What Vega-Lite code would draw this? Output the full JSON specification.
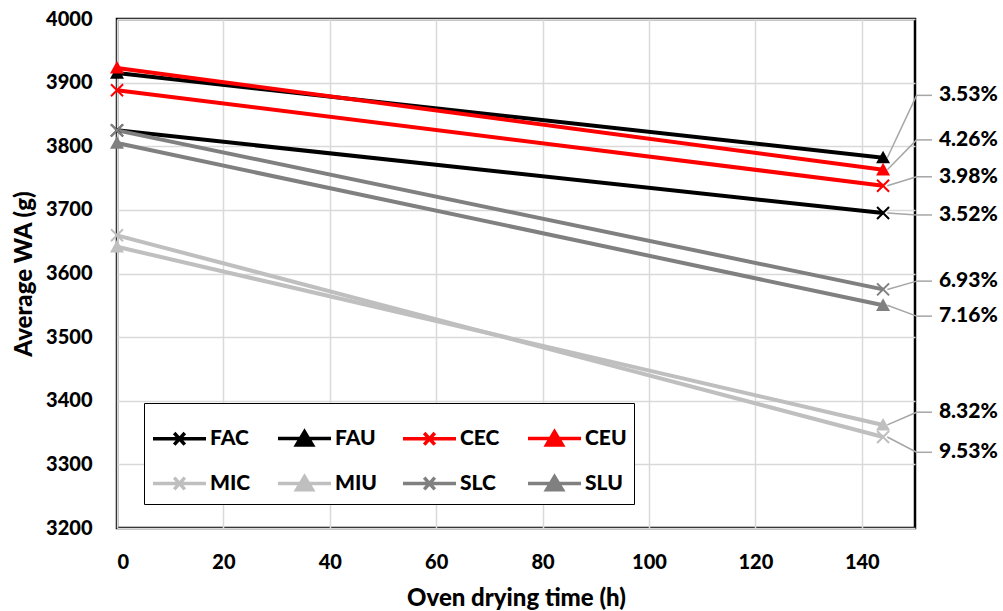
{
  "$schema": "https://vega.github.io/schema/vega-lite/v6.json",
  "width": 798,
  "height": 509,
  "autosize": {"type": "none"},
  "padding": {"left": 117, "top": 19, "right": 88, "bottom": 83},
  "background": "white",
  "config": {
    "font": "Lato",
    "view": {"stroke": "black", "strokeWidth": 2.5},
    "axis": {
      "labelFont": "Lato", "labelFontWeight": 900, "labelFontSize": 20, "labelColor": "black",
      "titleFont": "Lato", "titleFontWeight": 900, "titleFontSize": 24, "titleColor": "black",
      "domain": false, "ticks": false, "gridColor": "#d9d9d9", "gridWidth": 1.5
    }
  },
  "datasets": {
    "series": [
      {"series": "FAC", "t": 0, "wa": 3825}, {"series": "FAC", "t": 144, "wa": 3695},
      {"series": "FAU", "t": 0, "wa": 3915}, {"series": "FAU", "t": 144, "wa": 3782},
      {"series": "CEC", "t": 0, "wa": 3888}, {"series": "CEC", "t": 144, "wa": 3738},
      {"series": "CEU", "t": 0, "wa": 3923}, {"series": "CEU", "t": 144, "wa": 3763},
      {"series": "MIC", "t": 0, "wa": 3660}, {"series": "MIC", "t": 144, "wa": 3343},
      {"series": "MIU", "t": 0, "wa": 3642}, {"series": "MIU", "t": 144, "wa": 3362},
      {"series": "SLC", "t": 0, "wa": 3825}, {"series": "SLC", "t": 144, "wa": 3575},
      {"series": "SLU", "t": 0, "wa": 3805}, {"series": "SLU", "t": 144, "wa": 3550}
    ],
    "labels": [
      {"pct": "3.53%", "val": 3782, "ly": 3880},
      {"pct": "4.26%", "val": 3763, "ly": 3810},
      {"pct": "3.98%", "val": 3738, "ly": 3752},
      {"pct": "3.52%", "val": 3695, "ly": 3692},
      {"pct": "6.93%", "val": 3575, "ly": 3588},
      {"pct": "7.16%", "val": 3550, "ly": 3533},
      {"pct": "8.32%", "val": 3362, "ly": 3382},
      {"pct": "9.53%", "val": 3343, "ly": 3319}
    ]
  },
  "layer": [
    {
      "data": {"name": "series"},
      "mark": {"type": "line", "strokeWidth": 4},
      "encoding": {
        "x": {"field": "t", "type": "quantitative", "scale": {"domain": [0, 150], "nice": false},
              "axis": {"values": [0, 20, 40, 60, 80, 100, 120, 140], "format": "d", "title": "Oven drying time (h)", "labelPadding": 24, "titlePadding": 14}},
        "y": {"field": "wa", "type": "quantitative", "scale": {"domain": [3200, 4000], "nice": false, "zero": false},
              "axis": {"values": [3200, 3300, 3400, 3500, 3600, 3700, 3800, 3900, 4000], "format": "d", "title": "Average WA (g)", "labelPadding": 25, "titlePadding": 9}},
        "color": {"field": "series", "type": "nominal", "legend": null,
                  "scale": {"domain": ["SLU", "SLC", "MIU", "MIC", "CEU", "CEC", "FAU", "FAC"],
                            "range": ["#808080", "#808080", "#bfbfbf", "#bfbfbf", "#ff0000", "#ff0000", "#000000", "#000000"]}}
      }
    },
    {
      "data": {"name": "series"},
      "transform": [{"filter": "indexof(['FAC','CEC','MIC','SLC'], datum.series) >= 0"}],
      "mark": {"type": "point", "shape": "M-1,-1L1,1M-1,1L1,-1", "filled": false, "strokeWidth": 2, "size": 144, "opacity": 1},
      "encoding": {
        "x": {"field": "t", "type": "quantitative"},
        "y": {"field": "wa", "type": "quantitative"},
        "color": {"field": "series", "type": "nominal", "legend": null}
      }
    },
    {
      "data": {"name": "series"},
      "transform": [{"filter": "indexof(['FAU','CEU','MIU','SLU'], datum.series) >= 0"}],
      "mark": {"type": "point", "shape": "M-1,0.8L0,-1L1,0.8Z", "filled": true, "size": 196, "opacity": 1},
      "encoding": {
        "x": {"field": "t", "type": "quantitative"},
        "y": {"field": "wa", "type": "quantitative"},
        "color": {"field": "series", "type": "nominal", "legend": null}
      }
    },
    {
      "data": {"name": "labels"},
      "mark": {"type": "rule", "color": "#a6a6a6", "strokeWidth": 1.5},
      "encoding": {
        "x": {"datum": 144.8, "type": "quantitative"},
        "x2": {"datum": 150.3},
        "y": {"field": "val", "type": "quantitative"},
        "y2": {"field": "ly"}
      }
    },
    {
      "data": {"name": "labels"},
      "mark": {"type": "rule", "color": "#a6a6a6", "strokeWidth": 1.5},
      "encoding": {
        "x": {"datum": 150.3, "type": "quantitative"},
        "x2": {"datum": 153.2},
        "y": {"field": "ly", "type": "quantitative"},
        "y2": {"field": "ly"}
      }
    },
    {
      "data": {"name": "labels"},
      "mark": {"type": "text", "align": "left", "baseline": "middle", "font": "Lato", "fontWeight": 900, "fontSize": 21, "color": "black"},
      "encoding": {
        "x": {"datum": 154.5, "type": "quantitative"},
        "y": {"field": "ly", "type": "quantitative"},
        "text": {"field": "pct"}
      }
    },
    {
      "data": {"name": "series"},
      "transform": [{"filter": "datum.t == 0"}],
      "mark": {"type": "point", "filled": true, "strokeWidth": 3.5, "size": 2809, "opacity": 0},
      "encoding": {
        "x": {"field": "t", "type": "quantitative"},
        "y": {"field": "wa", "type": "quantitative"},
        "fill": {"field": "series", "type": "nominal",
                 "scale": {"domain": ["FAC", "FAU", "CEC", "CEU", "MIC", "MIU", "SLC", "SLU"],
                           "range": ["#000000", "#000000", "#ff0000", "#ff0000", "#bfbfbf", "#bfbfbf", "#808080", "#808080"]},
                 "legend": {"orient": "none", "legendX": 27, "legendY": 384, "columns": 4, "direction": "horizontal", "title": null,
                            "strokeColor": "black", "fillColor": "white", "padding": 7,
                            "labelFont": "Lato", "labelFontWeight": 900, "labelFontSize": 21, "labelColor": "black",
                            "symbolStrokeWidth": 3.5, "symbolSize": 2809, "symbolOpacity": 1, "labelOffset": 2, "columnPadding": 19, "rowPadding": 3, "gridAlign": "all"}},
        "stroke": {"field": "series", "type": "nominal",
                   "scale": {"domain": ["FAC", "FAU", "CEC", "CEU", "MIC", "MIU", "SLC", "SLU"],
                             "range": ["#000000", "#000000", "#ff0000", "#ff0000", "#bfbfbf", "#bfbfbf", "#808080", "#808080"]},
                   "legend": {"orient": "none", "legendX": 27, "legendY": 384, "columns": 4, "direction": "horizontal", "title": null,
                              "strokeColor": "black", "fillColor": "white", "padding": 7,
                              "labelFont": "Lato", "labelFontWeight": 900, "labelFontSize": 21, "labelColor": "black",
                              "symbolStrokeWidth": 3.5, "symbolSize": 2809, "symbolOpacity": 1, "labelOffset": 2, "columnPadding": 19, "rowPadding": 3, "gridAlign": "all"}},
        "shape": {"field": "series", "type": "nominal",
                  "scale": {"domain": ["FAC", "FAU", "CEC", "CEU", "MIC", "MIU", "SLC", "SLU"],
                            "range": ["M-1,0L1,0M-0.2,-0.22L0.2,0.22M-0.2,0.22L0.2,-0.22", "M-1,0L1,0M-0.3,0.24L0,-0.26L0.3,0.24Z",
                                      "M-1,0L1,0M-0.2,-0.22L0.2,0.22M-0.2,0.22L0.2,-0.22", "M-1,0L1,0M-0.3,0.24L0,-0.26L0.3,0.24Z",
                                      "M-1,0L1,0M-0.2,-0.22L0.2,0.22M-0.2,0.22L0.2,-0.22", "M-1,0L1,0M-0.3,0.24L0,-0.26L0.3,0.24Z",
                                      "M-1,0L1,0M-0.2,-0.22L0.2,0.22M-0.2,0.22L0.2,-0.22", "M-1,0L1,0M-0.3,0.24L0,-0.26L0.3,0.24Z"]},
                  "legend": {"orient": "none", "legendX": 27, "legendY": 384, "columns": 4, "direction": "horizontal", "title": null,
                             "strokeColor": "black", "fillColor": "white", "padding": 7,
                             "labelFont": "Lato", "labelFontWeight": 900, "labelFontSize": 21, "labelColor": "black",
                             "symbolStrokeWidth": 3.5, "symbolSize": 2809, "symbolOpacity": 1, "labelOffset": 2, "columnPadding": 19, "rowPadding": 3, "gridAlign": "all"}}
      }
    }
  ]
}
